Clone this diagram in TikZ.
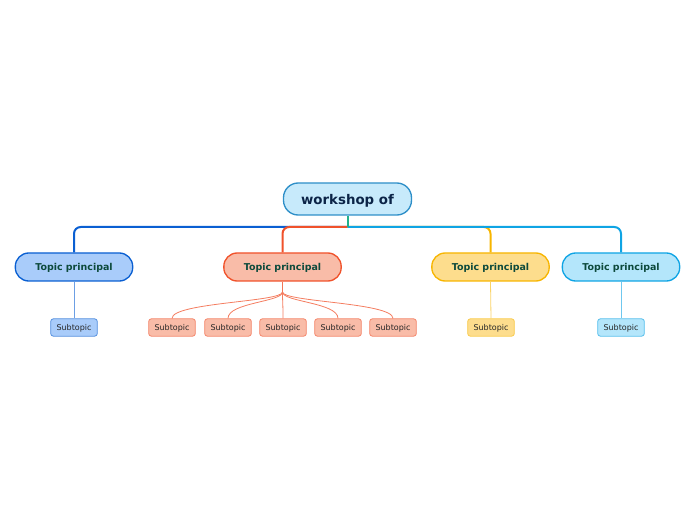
\documentclass[tikz,border=0pt]{standalone}
\usepackage{fontspec}
\setsansfont{DejaVu Sans}
\usepackage{tikz}
\usetikzlibrary{positioning,calc}
\definecolor{wsroot}{HTML}{C7EAFB}
\definecolor{wsrootline}{HTML}{2E8FC8}
\definecolor{wsnavy}{HTML}{0B2447}
\definecolor{wsgreen}{HTML}{0D4A3C}
\definecolor{wsblue}{HTML}{A9CCFA}
\definecolor{wsblueline}{HTML}{0A5FD2}
\definecolor{wsorange}{HTML}{F9BCA8}
\definecolor{wsorangeline}{HTML}{F0522B}
\definecolor{wsyellow}{HTML}{FDDD8D}
\definecolor{wsyellowline}{HTML}{F7B500}
\definecolor{wscyan}{HTML}{B4E6FB}
\definecolor{wscyanline}{HTML}{0FA4E4}

\begin{document}
\begin{tikzpicture}[x=0.75pt,y=-0.75pt,
  rootbox/.style={draw=wsrootline,fill=wsroot,line width=1pt,rounded corners=11pt,
    minimum width=96pt,minimum height=24pt,inner sep=0pt,text depth=0pt,
    font=\sffamily\bfseries\fontsize{10}{12}\selectfont,text=wsnavy},
  topicbox/.style={draw=#1line,fill=#1,line width=1pt,rounded corners=10pt,
    minimum width=88pt,minimum height=21pt,inner sep=0pt,text depth=0pt,
    font=\sffamily\bfseries\fontsize{7.1}{9}\selectfont,text=wsgreen},
  subbox/.style={draw=#1line!70!white,fill=#1,line width=0.6pt,rounded corners=2pt,
    minimum width=35pt,minimum height=13pt,inner sep=0pt,text depth=0pt,
    font=\sffamily\fontsize{6}{7}\selectfont,text=black!85},
  mainlink/.style={draw=#1,line width=1.5pt,rounded corners=5pt},
  sublink/.style={draw=#1line!60!white,line width=0.6pt}]
\useasboundingbox (0,0) rectangle (696,520);

% central topic
\node[rootbox] (root) at (347.5,199) {workshop of};
\coordinate (hub) at (347.5,227);

% main topics
\node[topicbox=wsblue] (tblue) at (74,267) {Topic principal};
\node[topicbox=wsorange] (torange) at (282.5,267) {Topic principal};
\node[topicbox=wsyellow] (tyellow) at (490.5,267) {Topic principal};
\node[topicbox=wscyan] (tcyan) at (621,267) {Topic principal};

% subtopics
\node[subbox=wsblue] (sblue) at (74,327.5) {Subtopic};
\foreach \i/\x in {1/172,2/228,3/283,4/338,5/393}
  \node[subbox=wsorange] (sorange\i) at (\x,327.5) {Subtopic};
\node[subbox=wsyellow] (syellow) at (491,327.5) {Subtopic};
\node[subbox=wscyan] (scyan) at (621,327.5) {Subtopic};

% links root -> topics
\draw[mainlink=wsblueline] (hub) -| (tblue.north);
\draw[mainlink=wsorangeline] (hub) -| (torange.north);
\draw[mainlink=wsyellowline] (hub) -| (tyellow.north);
\draw[mainlink=wscyanline] (hub) -| (tcyan.north);
\draw[line width=1.5pt,wsrootline!70!green] (root.south) -- (hub);

% links topics -> subtopics
\draw[sublink=wsblue] (tblue.south) -- (sblue.north);
\draw[sublink=wsyellow] (tyellow.south) -- (syellow.north);
\draw[sublink=wscyan] (tcyan.south) -- (scyan.north);
\coordinate (ofork) at (282.5,292);
\draw[sublink=wsorange,draw=wsorangeline!80!white] (torange.south) -- (ofork);
\foreach \i in {1,...,5}
  \draw[sublink=wsorange,draw=wsorangeline!75!white] (ofork) .. controls ($(ofork)+(0,10)$) and ($(sorange\i.north)+(0,-16)$) .. (sorange\i.north);
\end{tikzpicture}
\end{document}
